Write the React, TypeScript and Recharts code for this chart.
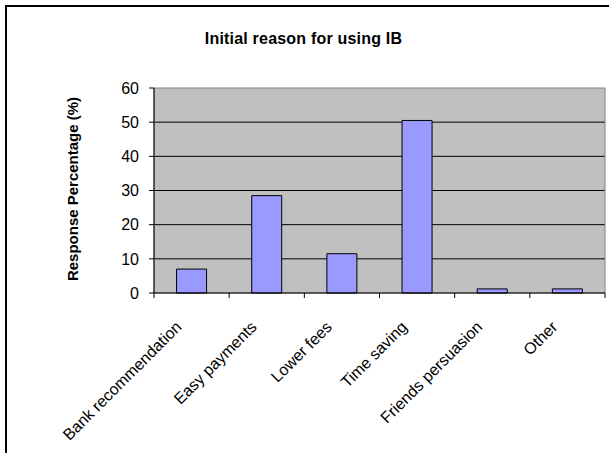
import React from 'react';
import { BarChart, Bar, XAxis, YAxis, CartesianGrid, ReferenceArea } from 'recharts';

const categories = ['Bank recommendation', 'Easy payments', 'Lower fees', 'Time saving', 'Friends persuasion', 'Other'];
const responseValues = [7, 28.5, 11.5, 50.5, 1.2, 1.2];
const yTicks = [0, 10, 20, 30, 40, 50, 60];
const gridValues = [10, 20, 30, 40, 50];

const data = categories.map((c, i) => ({ name: c, value: responseValues[i] }));

const W = 609;
const H = 453;
const PLOT_LEFT = 154;
const PLOT_RIGHT_MARGIN = 4;
const BAND = (W - PLOT_LEFT - PLOT_RIGHT_MARGIN) / categories.length;
const FONT = '"Liberation Sans", Arial, sans-serif';

const XTick = (props: any) => {
  const { x, y, payload, index } = props;
  const tx = x - 9;
  const ty = y + 35;
  return (
    <g>
      <line x1={x - BAND / 2} y1={y} x2={x - BAND / 2} y2={y + 5} stroke="#000" />
      {index === categories.length - 1 && (
        <line x1={x + BAND / 2} y1={y} x2={x + BAND / 2} y2={y + 5} stroke="#000" />
      )}
      <text
        x={tx}
        y={ty}
        transform={`rotate(-45, ${tx}, ${ty})`}
        textAnchor="end"
        fontSize={16}
        fontFamily={FONT}
        fill="#000"
      >
        {payload.value}
      </text>
    </g>
  );
};

export default function App() {
  return (
    <div style={{ position: 'absolute', left: 0, top: 0, width: W, height: H, overflow: 'hidden', background: '#fff' }}>
      <div
        style={{
          position: 'absolute',
          left: 5,
          top: 5,
          width: W + 50,
          height: H + 50,
          borderLeft: '2px solid #000',
          borderTop: '2px solid #000',
        }}
      />
      <div
        style={{
          position: 'absolute',
          left: 0,
          width: 607,
          top: 30,
          textAlign: 'center',
          fontFamily: FONT,
          fontWeight: 'bold',
          fontSize: 16,
          letterSpacing: 0.2,
          color: '#000',
        }}
      >
        Initial reason for using IB
      </div>
      <div
        style={{
          position: 'absolute',
          left: 72,
          top: 189,
          transform: 'translate(-50%, -50%) rotate(-90deg)',
          whiteSpace: 'nowrap',
          fontFamily: FONT,
          fontWeight: 'bold',
          fontSize: 15,
          color: '#000',
        }}
      >
        Response Percentage (%)
      </div>
      <div style={{ position: 'absolute', left: 0, top: 0 }}>
        <BarChart
          width={W}
          height={H}
          data={data}
          margin={{ top: 88, right: PLOT_RIGHT_MARGIN, bottom: 0, left: 0 }}
          barCategoryGap="30%"
        >
          <CartesianGrid vertical={false} horizontalValues={gridValues} stroke="#000" fill="#C0C0C0" />
          <ReferenceArea y1={0} y2={60} stroke="#808080" strokeWidth={1} fill="none" />
          <XAxis
            dataKey="name"
            interval={0}
            height={160}
            tickLine={false}
            tickSize={0}
            tickMargin={0}
            axisLine={{ stroke: '#000' }}
            tick={<XTick />}
          />
          <YAxis
            width={PLOT_LEFT}
            domain={[0, 60]}
            ticks={yTicks}
            interval={0}
            tickSize={5}
            tickMargin={10}
            axisLine={{ stroke: '#000' }}
            tickLine={{ stroke: '#000' }}
            tick={{ fontSize: 16, fontFamily: FONT, fill: '#000' }}
          />
          <Bar dataKey="value" fill="#9999FF" stroke="#000" strokeWidth={1} isAnimationActive={false} />
        </BarChart>
      </div>
    </div>
  );
}
